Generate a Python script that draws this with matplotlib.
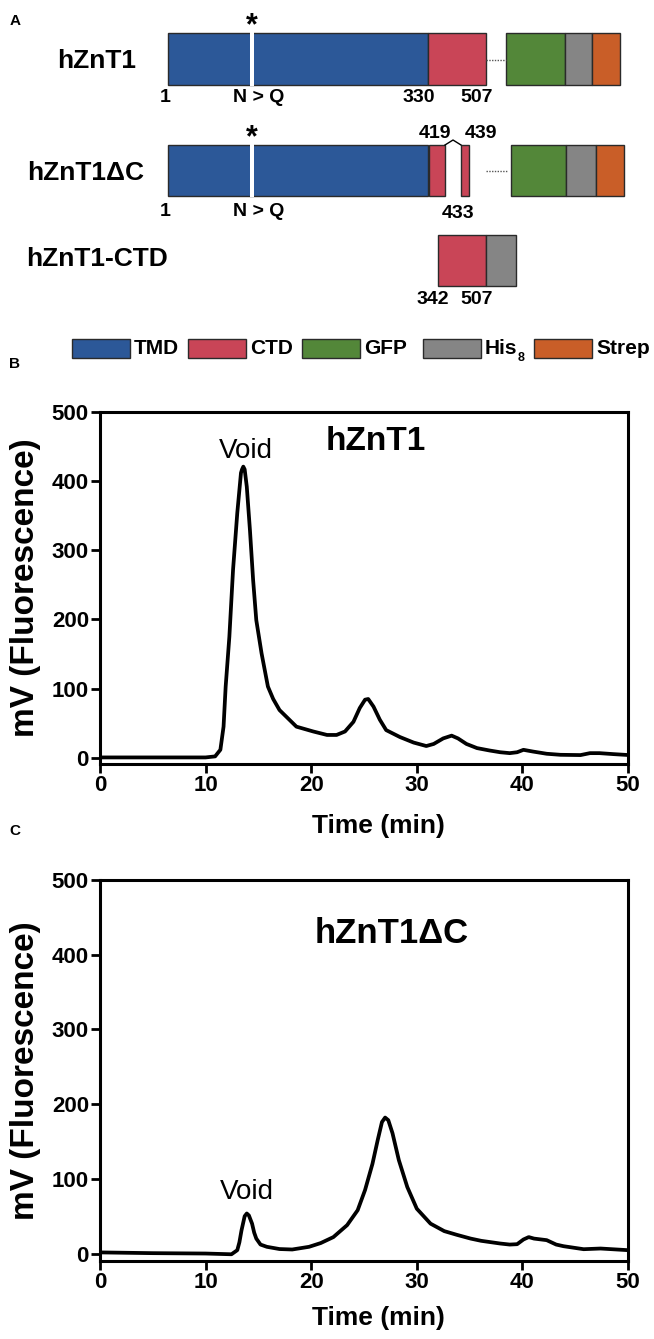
import numpy as np
import matplotlib
matplotlib.use('Agg')
import matplotlib.pyplot as plt
from matplotlib.patches import Rectangle

plt.rcParams['font.family'] = ['Liberation Sans', 'DejaVu Sans']

# ---- data ----
construct_names = ['hZnT1', 'hZnT1\u0394C', 'hZnT1-CTD']
domain_names = ['TMD', 'CTD', 'GFP', 'His', 'Strep']
domain_colors = ['#2c5898', '#c94557', '#538739', '#858585', '#c95e28']
mutation = 'N > Q'
res_full = ['1', '330', '507']
res_dc_top = ['419', '439']
res_dc_bottom = ['1', '433']
res_ctd = ['342', '507']

# panel B, hZnT1 FSEC trace
time_b = [0, 5, 10, 10.9, 11.4, 11.7, 11.9, 12.25, 12.6, 13.0, 13.35, 13.45, 13.57, 13.7,
          13.9, 14.2, 14.5, 14.8, 15.3, 15.9, 16.4, 17.0, 18.6, 20.2, 21.5, 22.4, 23.2,
          24.0, 24.6, 25.1, 25.4, 25.9, 26.5, 27.1, 28.4, 29.7, 30.9, 31.6, 32.5, 33.3,
          33.9, 34.7, 35.7, 36.9, 37.9, 38.8, 39.5, 40.1, 41.0, 42.3, 43.6, 45.5, 46.4,
          47.3, 48.6, 50]
mv_b = [0.5, 0.5, 0.5, 2, 11.6, 45, 103, 175, 272, 354, 412, 417, 421, 417,
        392, 329, 257, 199, 151, 103, 85, 69, 45, 38, 33, 33, 38,
        52, 72, 84, 85, 74, 55, 40, 30, 22, 17, 20, 28, 32,
        28, 20, 14, 10.5, 8, 6.7, 8, 11.5, 9, 5.8, 4.3, 3.9, 6.7,
        6.7, 5.3, 4]

# panel C, hZnT1dC FSEC trace
time_c = [0, 5, 10, 12.45, 13.0, 13.2, 13.4, 13.7, 13.9, 14.1, 14.4, 14.6, 14.8, 15.2,
          15.8, 17.0, 18.2, 19.8, 20.9, 22.1, 23.4, 24.4, 25.1, 25.8, 26.3, 26.7, 27.0,
          27.3, 27.7, 28.3, 29.1, 30.0, 31.3, 32.6, 33.8, 35.1, 36.1, 37.9, 38.8, 39.5,
          40.1, 40.6, 41.1, 42.3, 43.2, 43.9, 45.8, 47.4, 50]
mv_c = [1.5, 0.5, 0, -1, 4.5, 15, 31, 50, 53.6, 51, 40, 28, 20, 12,
        9, 6, 5.4, 9, 14, 22, 38, 58, 85, 120, 152, 176, 182,
        178.5, 161, 125, 89, 60, 40, 30, 25, 20, 17, 13.4, 12, 12.5,
        18.8, 22, 20, 17.9, 12, 9.8, 5.8, 6.7, 4.5]

W, H = 654, 1339
fig = plt.figure(figsize=(W / 100, H / 100), dpi=100)

# ---- panel A: construct schematic, drawn in pixel units ----
ax_a = fig.add_axes([0, 1 - 380 / H, 1, 380 / H])
ax_a.set_xlim(0, W)
ax_a.set_ylim(380, 0)
ax_a.axis('off')


def box(x0, x1, y0, y1, d):
    ax_a.add_patch(Rectangle((x0, y0), x1 - x0, y1 - y0, fc=domain_colors[d],
                             ec='#2a2a2a', lw=1, zorder=2))


rows = [
    (33, 85, [(0, 168, 428), (1, 428, 486), (2, 506, 565), (3, 565, 592), (4, 592, 620)]),
    (145, 196, [(0, 168, 428), (1, 429, 445), (1, 461, 469), (2, 511, 566), (3, 566, 596), (4, 596, 624)]),
    (235, 286, [(1, 438, 486), (3, 486, 516)]),
]
for y0, y1, segs in rows:
    for d, x0, x1 in segs:
        box(x0, x1, y0, y1, d)

# glycosylation site cut and linker dots
for y0, y1, _ in rows[:2]:
    ax_a.add_patch(Rectangle((250, y0 - 1), 4, y1 - y0 + 2, fc='white', ec='none', zorder=3))
ax_a.plot([486, 506], [60, 60], ls=(0, (1, 1)), color='#555555', lw=1)
ax_a.plot([486, 507], [171, 171], ls=(0, (1, 1)), color='#555555', lw=1)
ax_a.plot([445, 453, 461], [145, 140, 145], color='black', lw=1)

num_kw = dict(fontsize=14, fontweight='bold', ha='center', va='center')
for y in (26, 138):
    ax_a.text(252, y, '*', fontsize=22, fontweight='bold', ha='center', va='center')
for x, s in zip([165, 419, 477], res_full):
    ax_a.text(x, 98, s, **num_kw)
ax_a.text(259, 98, mutation, **num_kw)
for x, s in zip([435, 481], res_dc_top):
    ax_a.text(x, 133, s, **num_kw)
for x, y, s in zip([165, 458], [211, 214], res_dc_bottom):
    ax_a.text(x, y, s, **num_kw)
ax_a.text(259, 211, mutation, **num_kw)
for x, s in zip([433, 477], res_ctd):
    ax_a.text(x, 300, s, **num_kw)

for x, y, s in zip([97, 86, 97], [61, 173, 259], construct_names):
    ax_a.text(x, y, s, fontsize=19, fontweight='bold', ha='center', va='center')

# legend
leg_x = [72, 188, 302, 423, 534]
for d, x in enumerate(leg_x):
    box(x, x + 58, 339, 358, d)
    ax_a.text(x + 62, 349, domain_names[d], fontsize=15, fontweight='bold',
              ha='left', va='center')
ax_a.text(518, 358, '8', fontsize=9, fontweight='bold', ha='left', va='center')

ax_a.text(15, 21, 'A', fontsize=11, fontweight='bold', ha='center', va='center')
ax_a.text(15, 364, 'B', fontsize=11, fontweight='bold', ha='center', va='center')
fig.text(15 / W, 1 - 831 / H, 'C', fontsize=11, fontweight='bold', ha='center', va='center')


# ---- panels B and C: FSEC traces ----
def trace_panel(rect, t, mv, ybottom, title, title_xy, title_size, void_xy, xlab_y):
    ax = fig.add_axes(rect)
    ax.plot(t, mv, color='black', lw=2.7, solid_joinstyle='round', solid_capstyle='round')
    ax.set_xlim(0, 50)
    ax.set_ylim(ybottom, 500)
    ax.set_xticks([0, 10, 20, 30, 40, 50])
    ax.set_yticks([0, 100, 200, 300, 400, 500])
    for sp in ax.spines.values():
        sp.set_linewidth(2.2)
    ax.tick_params(direction='out', length=6.5, width=2, labelsize=16, pad=1.5)
    for lab in ax.get_xticklabels() + ax.get_yticklabels():
        lab.set_fontweight('bold')
    ax.text(*title_xy, title, fontsize=title_size, fontweight='bold', ha='center', va='center')
    ax.text(*void_xy, 'Void', fontsize=20, ha='center', va='center')
    ax.text(-0.142, 0.5, 'mV (Fluorescence)', transform=ax.transAxes, rotation=90,
            fontsize=24, fontweight='bold', ha='center', va='center')
    ax.text(0.527, xlab_y, 'Time (min)', transform=ax.transAxes,
            fontsize=19, fontweight='bold', ha='center', va='center')
    return ax


trace_panel([100 / W, 1 - 764 / H, 528 / W, 352 / H], time_b, mv_b, -9,
            'hZnT1', (26.1, 457), 24, (13.8, 444), -0.176)
trace_panel([100 / W, 1 - 1261 / H, 528 / W, 381 / H], time_c, mv_c, -10,
            'hZnT1\u0394C', (27.6, 429), 25, (13.9, 83), -0.150)

fig.savefig('out.png', dpi=100)
